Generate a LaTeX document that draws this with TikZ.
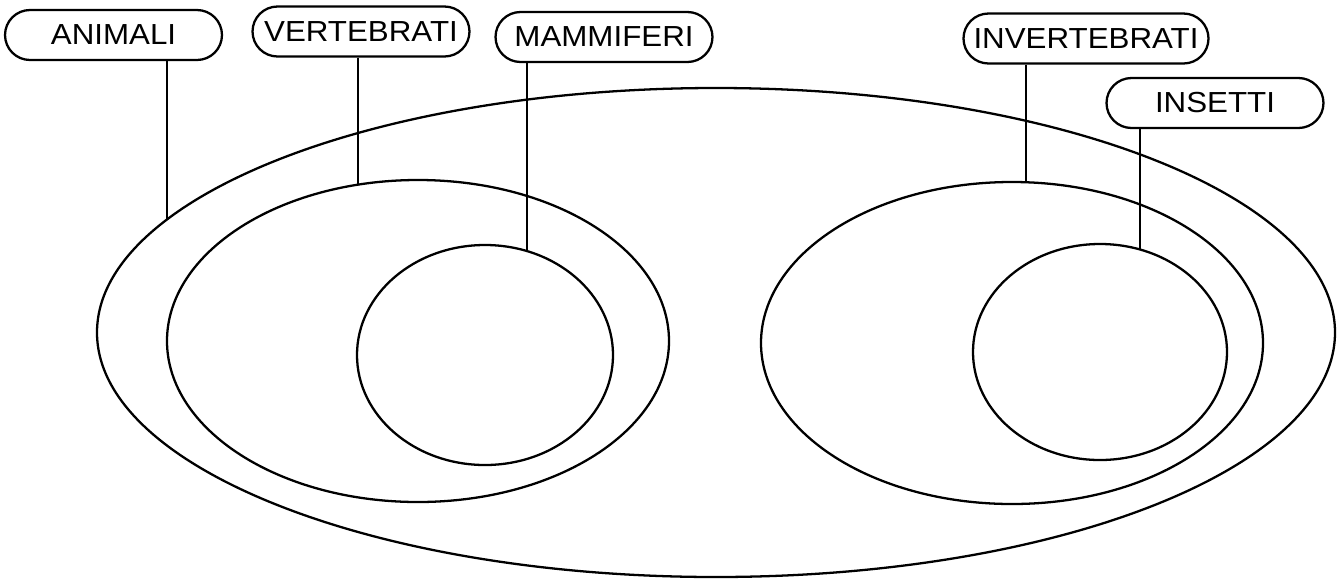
\documentclass[tikz,border=0pt]{standalone}
\usepackage{fontspec}
\newfontfamily\labelfont[FakeStretch=1.08]{Liberation Sans}

\begin{document}
\begin{tikzpicture}[x=0.02cm, y=-0.02cm,
  setbox/.style={draw, line width=1.3pt, rounded corners=0.5cm, minimum width=4.34cm, minimum height=1cm, inner xsep=0.2cm, font=\labelfont\fontsize{16.5}{19}\selectfont},
  setline/.style={line width=1.3pt},
]
  \useasboundingbox (0,0) rectangle (1339,579);

  % sets
  \draw[setline] (716,332.5) ellipse [x radius=619, y radius=244.5];
  \draw[setline] (418,341) ellipse [x radius=251, y radius=161];
  \draw[setline] (485,355) ellipse [x radius=128, y radius=110];
  \draw[setline] (1012,343) ellipse [x radius=251, y radius=161];
  \draw[setline] (1100,352) ellipse [x radius=127, y radius=108];

  % points where the labels touch the sets
  \coordinate (tAni) at (167,219.6);
  \coordinate (tVer) at (358,184.7);
  \coordinate (tMam) at (527,251.1);
  \coordinate (tInv) at (1026,182.3);
  \coordinate (tIns) at (1140,249.5);

  \node[setbox] (ani) at (113.5,35) {ANIMALI};
  \node[setbox] (ver) at (361,31.5) {VERTEBRATI};
  \node[setbox] (mam) at (604,37) {MAMMIFERI};
  \node[setbox] (inv) at (1086,38.5) {INVERTEBRATI};
  \node[setbox] (ins) at (1215,103) {INSETTI};

  \draw[setline] (ani.south -| tAni) -- (tAni);
  \draw[setline] (ver.south -| tVer) -- (tVer);
  \draw[setline] (mam.south -| tMam) -- (tMam);
  \draw[setline] (inv.south -| tInv) -- (tInv);
  \draw[setline] (ins.south -| tIns) -- (tIns);

\end{tikzpicture}
\end{document}
